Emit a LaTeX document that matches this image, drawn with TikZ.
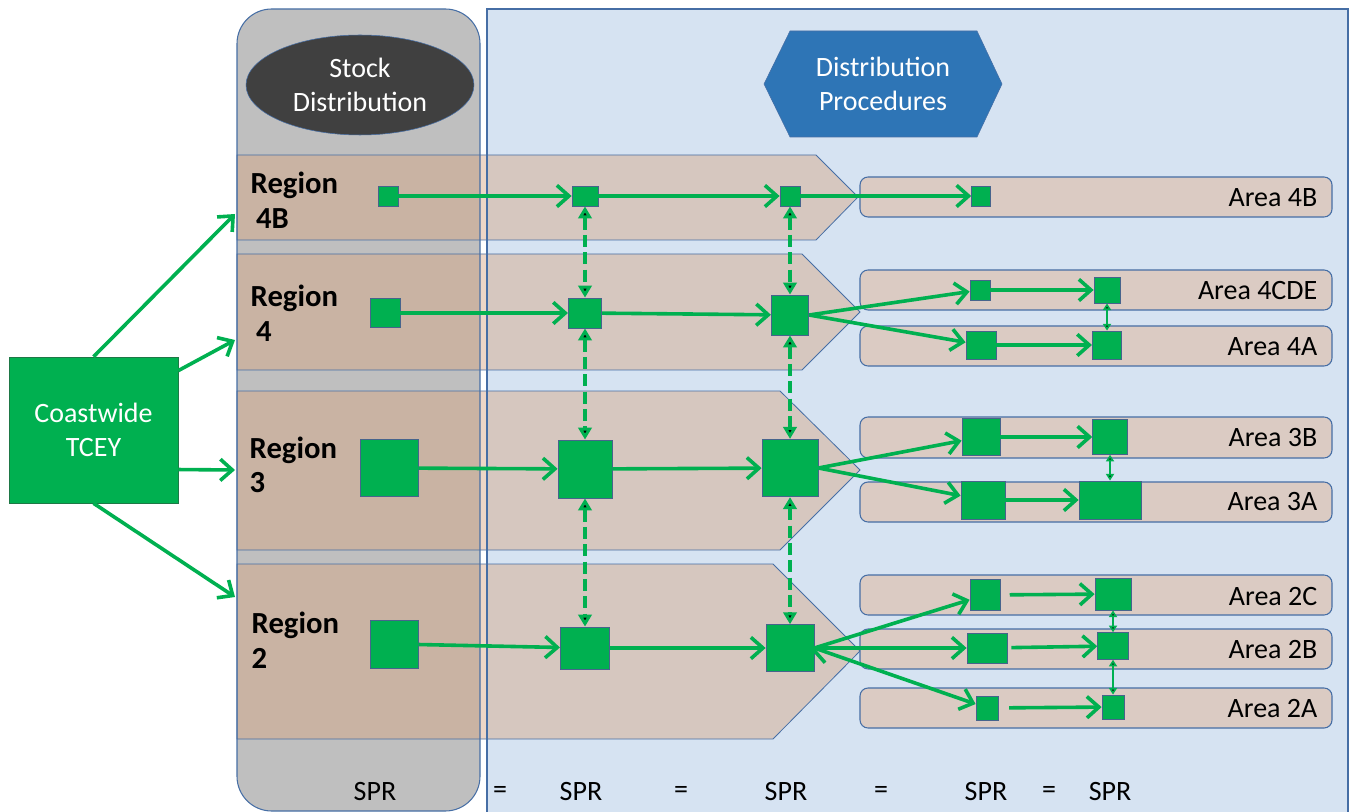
\documentclass[tikz,border=0pt]{standalone}
\usepackage{fontspec}
\setmainfont{Carlito}
\usetikzlibrary{arrows.meta}
\usetikzlibrary{shapes.geometric}

\definecolor{tgreen}{RGB}{0,176,80}
\definecolor{sqedge}{RGB}{70,100,140}
\definecolor{cwedge}{RGB}{30,120,70}
\definecolor{panelgray}{RGB}{191,191,191}
\definecolor{panelblue}{RGB}{214,227,242}
\definecolor{paneledge}{RGB}{70,110,165}
\definecolor{bandbrown}{RGB}{215,165,130}
\definecolor{areabrown}{RGB}{219,203,195}
\definecolor{ovaldark}{RGB}{64,64,64}
\definecolor{hexblue}{RGB}{46,117,182}

\begin{document}
\begin{tikzpicture}[x=0.75pt,y=-0.75pt,
        sq/.style = {draw=sqedge,fill=tgreen,line width=0.6pt,inner sep=0pt},
        flow/.style = {draw=tgreen,line width=2.7pt,
            -{Straight Barb[length=9pt,width=16pt]}},
        link/.style = {draw=tgreen,line width=2.8pt,dash pattern=on 9pt off 4pt,
            {Triangle[length=9pt,width=10pt]}-{Triangle[length=9pt,width=10pt]}},
        tie/.style = {draw=tgreen,line width=1.6pt,
            {Triangle[length=5pt,width=6pt]}-{Triangle[length=5pt,width=6pt]}},
        band/.style = {draw=paneledge,line width=0.6pt,fill=bandbrown,fill opacity=0.45},
        area/.style = {draw=paneledge,line width=0.8pt,fill=areabrown,rounded corners=6pt},
        reglbl/.style = {anchor=west,align=left,font=\fontsize{23}{26}\selectfont\bfseries},
        arealbl/.style = {anchor=east,font=\fontsize{21}{25}\selectfont},
        txt/.style = {font=\fontsize{21}{25}\selectfont}]
    \useasboundingbox (0,0) rectangle (1351,812);

    % panels
    \fill[panelblue] (487,9) rectangle (1348,812);
    \fill[panelgray,rounded corners=26pt] (237,9) rectangle (480,811);
    \node[draw=paneledge,fill=ovaldark,ellipse,minimum width=171pt,minimum height=75pt,
        text=white,align=center,txt] (stock) at (360,85) {Stock\\Distribution};
    \draw[draw=paneledge,fill=hexblue] (764,84) -- (790,31) -- (977,31) -- (1002,84)
        -- (977,137) -- (790,137) -- cycle;
    \node[text=white,align=center,txt] (proc) at (883,84) {Distribution\\Procedures};

    % region bands
    \draw[band] (237,155) -- (816,155) -- (858,197) -- (816,240) -- (237,240) -- cycle;
    \draw[band] (237,254) -- (802,254) -- (860,312) -- (802,370) -- (237,370) -- cycle;
    \draw[band] (237,391) -- (780,391) -- (860,470) -- (780,550) -- (237,550) -- cycle;
    \draw[band] (237,564) -- (773,564) -- (860,651) -- (773,739) -- (237,739) -- cycle;
    \draw[paneledge,line width=0.8pt] (487,812) -- (487,9) -- (1348,9) -- (1348,812);
    \draw[paneledge,line width=0.8pt,rounded corners=26pt] (237,9) rectangle (480,811);

    % area bars
    \draw[area] (860,177) rectangle (1332,217);
    \draw[area] (860,270) rectangle (1332,310);
    \draw[area] (860,326) rectangle (1332,366);
    \draw[area] (860,417) rectangle (1332,458);
    \draw[area] (860,482) rectangle (1332,522);
    \draw[area] (860,575) rectangle (1332,615);
    \draw[area] (860,629) rectangle (1332,669);
    \draw[area] (860,688) rectangle (1332,728);

    % labels
    \node[reglbl] (l4B) at (246,200) {Region\\\hspace{4pt}4B};
    \node[reglbl] (l4) at (246,313) {Region\\\hspace{4pt}4};
    \node[reglbl] (l3) at (245,465) {Region\\3};
    \node[reglbl] (l2) at (247,640) {Region\\2};
    \node[arealbl] (t4B) at (1322,198) {Area 4B};
    \node[arealbl] (t4CDE) at (1322,291) {Area 4CDE};
    \node[arealbl] (t4A) at (1322,347) {Area 4A};
    \node[arealbl] (t3B) at (1322,438) {Area 3B};
    \node[arealbl] (t3A) at (1322,502) {Area 3A};
    \node[arealbl] (t2C) at (1322,597) {Area 2C};
    \node[arealbl] (t2B) at (1322,650) {Area 2B};
    \node[arealbl] (t2A) at (1322,709) {Area 2A};

    \node[draw=cwedge,fill=tgreen,minimum width=126.75pt,minimum height=109.5pt,
        text=white,align=center,txt] (cw) at (93.5,430) {Coastwide\\TCEY};
    \coordinate (in4B) at (235,214);
    \coordinate (in4) at (235,340);
    \coordinate (in3) at (235,470);
    \coordinate (in2) at (235,597);

    % squares
    \node[sq,minimum width=15pt,minimum height=15pt] (r4Ba) at (388,196) {};
    \node[sq,minimum width=19.5pt,minimum height=15pt] (r4Bb) at (585,196) {};
    \node[sq,minimum width=15pt,minimum height=15pt] (r4Bc) at (790,196) {};
    \node[sq,minimum width=14pt,minimum height=15pt] (a4B) at (981,196) {};
    \node[sq,minimum width=22.5pt,minimum height=22pt] (r4a) at (385,313) {};
    \node[sq,minimum width=25pt,minimum height=22.5pt] (r4b) at (585,313) {};
    \node[sq,minimum width=28pt,minimum height=30pt] (r4c) at (790,315) {};
    \node[sq,minimum width=15pt,minimum height=15pt] (a4CDEa) at (980,290) {};
    \node[sq,minimum width=19.5pt,minimum height=19.5pt] (a4CDEb) at (1107,290) {};
    \node[sq,minimum width=22.5pt,minimum height=21pt] (a4Aa) at (981,345) {};
    \node[sq,minimum width=22pt,minimum height=21pt] (a4Ab) at (1107,345) {};
    \node[sq,minimum width=43.5pt,minimum height=43pt] (r3a) at (389,468) {};
    \node[sq,minimum width=40.5pt,minimum height=43.5pt] (r3b) at (585,469) {};
    \node[sq,minimum width=42pt,minimum height=43pt] (r3c) at (790,468) {};
    \node[sq,minimum width=28.5pt,minimum height=28pt] (a3Ba) at (981,437) {};
    \node[sq,minimum width=26pt,minimum height=26pt] (a3Bb) at (1110,437) {};
    \node[sq,minimum width=33pt,minimum height=28.5pt] (a3Aa) at (983,500) {};
    \node[sq,minimum width=46.5pt,minimum height=28.5pt] (a3Ab) at (1110,500) {};
    \node[sq,minimum width=36pt,minimum height=36pt] (r2a) at (394,644) {};
    \node[sq,minimum width=37pt,minimum height=31.5pt] (r2b) at (585,648) {};
    \node[sq,minimum width=36pt,minimum height=35pt] (r2c) at (790,648) {};
    \node[sq,minimum width=22.5pt,minimum height=23pt] (a2Ca) at (985,595) {};
    \node[sq,minimum width=27pt,minimum height=24pt] (a2Cb) at (1113,594) {};
    \node[sq,minimum width=30pt,minimum height=22.5pt] (a2Ba) at (987,648) {};
    \node[sq,minimum width=23pt,minimum height=20pt] (a2Bb) at (1113,646) {};
    \node[sq,minimum width=16.5pt,minimum height=18pt] (a2Aa) at (987,708) {};
    \node[sq,minimum width=16.5pt,minimum height=18pt] (a2Ab) at (1113,707) {};

    % connectors
    \path[flow]
        (cw.north) edge (in4B)
        (cw.35) edge (in4)
        (cw.-25) edge (in3)
        (cw.south) edge (in2)
        (r4Ba) edge (r4Bb)
        (r4Bb) edge (r4Bc)
        (r4Bc) edge (a4B)
        (r4a) edge (r4b)
        (r4b) edge (r4c)
        (r4c.east) edge (a4CDEa)
        (r4c.east) edge (a4Aa)
        (a4CDEa) edge (a4CDEb)
        (a4Aa) edge (a4Ab)
        (r3a) edge (r3b)
        (r3b) edge (r3c)
        (r3c.east) edge (a3Ba)
        (r3c.east) edge (a3Aa)
        (a3Ba) edge (a3Bb)
        (a3Aa) edge (a3Ab)
        (r2a) edge (r2b)
        (r2b) edge (r2c)
        (r2c.east) edge (a2Ca)
        (r2c.east) edge (a2Ba)
        (r2c.east) edge (a2Aa)
        (a2Ca) edge[shorten <=7pt] (a2Cb)
        (a2Ba) edge[shorten <=3pt] (a2Bb)
        (a2Aa) edge[shorten <=8pt] (a2Ab);
    \path[link]
        (r4Bb) edge (r4b)
        (r4b) edge (r3b)
        (r3b) edge (r2b)
        (r4Bc) edge (r4c)
        (r4c) edge (r3c)
        (r3c) edge (r2c);
    \path[tie]
        (a4CDEb) edge (a4Ab)
        (a3Bb) edge (a3Ab)
        (a2Cb) edge (a2Bb)
        (a2Bb) edge (a2Ab);

    % bottom row
    \node[txt] (spr1) at (375,792) {SPR};
    \node[txt] (eq1) at (500,792) {=};
    \node[txt] (spr2) at (581,792) {SPR};
    \node[txt] (eq2) at (681,792) {=};
    \node[txt] (spr3) at (786,792) {SPR};
    \node[txt] (eq3) at (881,792) {=};
    \node[txt] (spr4) at (986,792) {SPR};
    \node[txt] (eq4) at (1049,792) {=};
    \node[txt] (spr5) at (1110,792) {SPR};
\end{tikzpicture}
\end{document}
